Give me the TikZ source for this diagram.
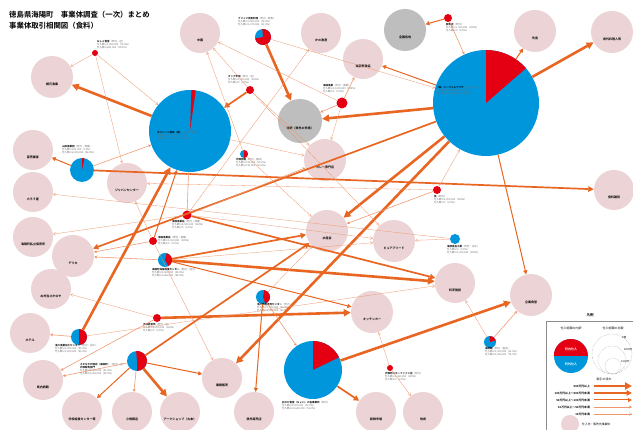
\documentclass[tikz,border=0pt]{standalone}
\usepackage{fontspec}
\newfontfamily\jp{Noto Sans CJK JP}
\newfontfamily\jpb{Noto Sans CJK JP Bold}
\usetikzlibrary{arrows.meta}

\definecolor{pinkfill}{RGB}{236,212,214}
\definecolor{grayfill}{RGB}{190,190,190}
\definecolor{piered}{RGB}{228,0,18}
\definecolor{pieblue}{RGB}{0,150,220}
\definecolor{flow}{RGB}{232,102,34}
\definecolor{flowlt}{RGB}{238,150,108}
\definecolor{captiongray}{RGB}{110,110,110}

\tikzset{
  buyer/.style={circle, fill=pinkfill, inner sep=0pt},
  market/.style={circle, fill=grayfill, inner sep=0pt},
  supplier/.style={circle, fill=pieblue, inner sep=0pt},
  localdot/.style={circle, fill=piered, inner sep=0pt},
  blab/.style={font=\jpb\fontsize{3}{3.5}\selectfont, inner sep=0pt},
  slab/.style={font=\jp\fontsize{2.5}{3.1}\selectfont, align=left, anchor=north west,
    inner sep=0pt, text=captiongray},
  flowA/.style={draw=flow, line width=2.6pt, -{Triangle[length=7pt,width=7pt]}},
  flowB/.style={draw=flow, line width=1.7pt, -{Triangle[length=5.5pt,width=5.5pt]}},
  flowC/.style={draw=flow, line width=1.0pt, -{Triangle[length=4pt,width=4pt]}},
  flowD/.style={draw=flowlt, line width=0.55pt, -{Stealth[length=3pt,width=3pt]}},
  flowE/.style={draw=flowlt, line width=0.3pt, -{Straight Barb[length=2.5pt,width=3pt]}},
}

% buyer circle with its caption
\newcommand\buyernode[6][buyer]{%
  \node[#1, minimum size=#5pt] (#2) at (#3,#4) {};
  \node[blab] (#2t) at ([yshift=-7pt]#2.center) {#6};}
% purchase pie: name, x, y, diameter, radius, red from, red to
\newcommand\piechart[7]{%
  \node[supplier, minimum size=#4pt] (#1) at (#2,#3) {};
  \fill[piered] (#1.center) -- ++(#6:#5pt) arc[start angle=#6, end angle=#7, radius=#5pt] -- cycle;}

\begin{document}
\begin{tikzpicture}[x=1pt,y=-1pt]
\useasboundingbox (0,0) rectangle (633,430);
\clip (0,0) rectangle (633,430);
\fill[white] (0,0) rectangle (633,430);

% title
\node[anchor=west, font=\jpb\fontsize{7.4}{8}\selectfont, inner sep=0pt] (title1) at (9,15) {徳島県海陽町　事業体調査（一次）まとめ};
\node[anchor=west, font=\jpb\fontsize{7.4}{8}\selectfont, inner sep=0pt] (title2) at (9,26) {事業体取引相関図（食料）};

% buyers and markets
\buyernode{p1}{52}{77}{42}{網元漁業}
\buyernode{p2}{200}{33}{40}{中国}
\buyernode{p3}{321}{33}{40}{かの漁港}
\buyernode[market]{g4}{405}{30}{42}{全国各地}
\buyernode{p5}{363}{59}{40}{海部郡漁協}
\buyernode[market]{g6}{300}{121}{44}{沖野（県外の市場）}
\buyernode{p7}{535}{31}{42}{先島}
\buyernode{p8}{612}{32}{42}{県外料理人等}
\buyernode{p9}{33}{150}{40}{直売業者}
\buyernode{p10}{33}{192}{40}{たろう屋}
\buyernode{p11}{33}{237}{40}{海陽町私立保育所}
\buyernode{p12}{73}{256}{42}{デリカ}
\buyernode{p13}{51}{289}{40}{お弁当さかなや}
\buyernode{p14}{30}{333}{40}{ホテル}
\buyernode{p15}{43}{380}{40}{県内旅館}
\buyernode{p16}{82}{412}{40}{学校給食センター等}
\buyernode{p17}{132}{412}{40}{小規模店}
\buyernode{p18}{180}{412}{40}{アークショップ（丸本）}
\buyernode{p19}{222}{378}{40}{業務販売}
\buyernode{p20}{254}{412}{40}{県外販売店}
\buyernode{p21}{376}{412}{40}{新鮮市場}
\buyernode{p22}{423}{412}{40}{他県}
\buyernode{p23}{372}{312}{42}{キッチンカー}
\buyernode{p24}{455}{283}{40}{料亭施設}
\buyernode{p25}{531}{295}{42}{企業食堂}
\buyernode{p26}{614}{190}{40}{食料雑貨}
\buyernode{p28}{327}{231}{42}{水産会}
\buyernode{p29}{394}{241}{42}{ピュアブリード}
\buyernode{p30}{325}{160}{42}{カレー専門店}
\buyernode{p31}{127}{183}{40}{ジャパンセンター}

% suppliers: purchase split (red = inside the town, blue = outside)
\piechart{A}{190}{131}{82}{41}{82}{88}
\piechart{B}{486}{103}{106}{53}{41}{90}
\piechart{C}{313}{370}{58}{29}{26}{90}
\piechart{D}{82}{170}{24}{12}{78}{90}
\piechart{E}{263}{37}{16}{8}{190}{455}
\piechart{I}{244}{154}{8}{4}{-90}{90}
\piechart{L}{165}{260}{14}{7}{-60}{75}
\piechart{N}{263}{297}{14}{7}{-70}{80}
\piechart{O}{79}{337}{16}{8}{-90}{90}
\piechart{P}{137}{361}{20}{10}{-90}{95}
\piechart{S}{490}{342}{12}{6}{15}{95}
\node[localdot, minimum size=8pt] (F) at (250,90) {};
\node[localdot, minimum size=8pt] (G) at (448,18) {};
\node[localdot, minimum size=11pt] (H) at (342,103) {};
\node[localdot, minimum size=9pt] (J) at (187,215) {};
\node[localdot, minimum size=8pt] (K) at (153,241) {};
\node[localdot, minimum size=8pt] (M) at (157,318) {};
\node[localdot, minimum size=8pt] (Q) at (437,190) {};
\node[localdot, minimum size=6pt] (T) at (390,368) {};
\node[localdot, minimum size=6pt] (U) at (95,53) {};
\node[supplier, minimum size=10pt] (R) at (455,239) {};

% supplier captions
\node[slab] (Ut) at (97,40) {\textcolor{black}{\jpb おしゃ食堂}（町内・店）\\仕入額 ¥ 1,650,000（70.5\%）\\仕入額 ¥ 690,000（29.5\%）};
\node[slab] (Et) at (238,17) {\textcolor{black}{\jpb ブリッジ地魚料理}（町内・飲食）\\仕入額 ¥ 3,800,000（78.0\%）\\仕入額 ¥ 1,070,000（22.0\%）};
\node[slab] (Ft) at (228,75) {\textcolor{black}{\jpb オック甲田}（町内・店）\\仕入額 ¥ 2,400,000（100\%）\\仕入額 ¥ 0（0.0\%）};
\node[slab] (Gt) at (446,23) {\textcolor{black}{\jpb 鮮魚店}（町内）\\仕入額 ¥ 1,200,000（100\%）\\仕入額 ¥ 0（0.0\%）};
\node[slab] (Ht) at (323,84) {\textcolor{black}{\jpb 海陽漁業}（町内・漁業）\\仕入額 ¥ 12,000,000（100\%）\\仕入額 ¥ 0（0.0\%）};
\node[slab] (At) at (157,131) {\textcolor{black}{\jpb ダイハーニ温泉（株）}（町内・観光）\\仕入額 ¥ 1,500,000（2.0\%）\\仕入額 ¥ 73,500,000（98.0\%）};
\node[slab] (Bt) at (436,86) {\textcolor{black}{\jpb （株）シーウェルプラザ}（町内・加工）\\仕入額 ¥ 25,000,000（13.6\%）\\仕入額 ¥ 159,000,000（86.4\%）};
\node[slab] (Dt) at (62,145) {\textcolor{black}{\jpb 山田漁業団}（町内・漁業）\\仕入額 ¥ 200,000（3.1\%）\\仕入額 ¥ 6,300,000（96.9\%）};
\node[slab] (It) at (236,158) {\textcolor{black}{\jpb 宍喰旅館}（町内・宿泊）\\仕入額 ¥ 720,000（50.0\%）\\仕入額 ¥ 720,000（50.0\%）};
\node[slab] (Jt) at (172,220) {\textcolor{black}{\jpb 海陽漁業協}（町内・漁業）\\仕入額 ¥ 8,500,000（100\%）\\仕入額 ¥ 0（0.0\%）};
\node[slab] (Kt) at (158,236) {\textcolor{black}{\jpb 海陽漁業協}（男性・漁業）\\仕入額 ¥ 3,100,000（100\%）\\仕入額 ¥ 0（0.0\%）};
\node[slab] (Lt) at (152,268) {\textcolor{black}{\jpb 海陽町海陽漁業センター}（町内・加工）\\仕入額 ¥ 4,800,000（45.0\%）\\仕入額 ¥ 5,860,000（55.0\%）};
\node[slab] (Mt) at (143,323) {\textcolor{black}{\jpb 平成経営所}（町内・店）\\仕入額 ¥ 6,200,000（100\%）\\仕入額 ¥ 0（0.0\%）};
\node[slab] (Nt) at (257,303) {\textcolor{black}{\jpb 浅川物産直売センター}（町内・店）\\仕入額 ¥ 2,900,000（40.0\%）\\仕入額 ¥ 4,350,000（60.0\%）};
\node[slab] (Ot) at (55,344) {\textcolor{black}{\jpb 浅川漁業加工センター}（町内・加工）\\仕入額 ¥ 3,000,000（50.0\%）\\仕入額 ¥ 3,000,000（50.0\%）};
\node[slab] (Pt) at (80,363) {\textcolor{black}{\jpb さかなや宍喰店（海陽町）}（町内・店）\\\textcolor{black}{\jpb 宍喰鮮魚部門}\\仕入額 ¥ 9,800,000（51.0\%）\\仕入額 ¥ 9,400,000（49.0\%）};
\node[slab] (Qt) at (434,195) {\textcolor{black}{\jpb 魚}（町内）\\仕入額 ¥ 4,000,000（100\%）\\仕入額 ¥ 0（0.0\%）};
\node[slab] (Rt) at (447,245) {\textcolor{black}{\jpb 海部食品工業}（町外・加工）\\仕入額 ¥ 0（0.0\%）\\仕入額 ¥ 3,200,000（100\%）};
\node[slab] (St) at (485,347) {\textcolor{black}{\jpb 海南館}（町内・宿泊）\\仕入額 ¥ 1,200,000（22.0\%）\\仕入額 ¥ 4,250,000（78.0\%）};
\node[slab] (Tt) at (385,372) {\textcolor{black}{\jpb 宍喰町のキーファイン店}（町内）\\仕入額 ¥ 1,480,000（100\%）\\仕入額 ¥ 0（0.0\%）};
\node[slab] (Ct) at (282,401) {\textcolor{black}{\jpb 石わか食堂（ちょい）の各事業所}（町内）\\仕入額 ¥ 9,200,000（22.0\%）\\仕入額 ¥ 32,600,000（78.0\%）};

% flows of goods
\draw[flowA] (A) -- (p1);
\draw[flowA] (E) -- (g6);
\draw[flowA] (B) -- (g6);
\draw[flowA] (B) -- (p8);
\draw[flowA] (B) -- (p28);
\draw[flowA] (B) -- (p19);
\draw[flowA] (C) -- (p25);
\draw[flowA] (O) -- (A);
\draw[flowA] (P) -- (p18);
\draw[flowA] (M) -- (p23);
\draw[flowA] (L) -- (p24);
\draw[flowB] (F) -- (A);
\draw[flowB] (C) -- (p21);
\draw[flowB] (J) -- (p24);
\draw[flowB] (L) -- (p28);
\draw[flowB] (D) -- (p26);
\draw[flowB] (P) -- (p28);
\draw[flowB] (B) -- (p12);
\draw[flowC] (G) -- (g4);
\draw[flowC] (B) -- (p5);
\draw[flowC] (B) -- (p7);
\draw[flowC] (B) -- (p25);
\draw[flowC] (P) -- (p16);
\draw[flowC] (P) -- (p19);
\draw[flowC] (N) -- (p20);
\draw[flowC] (D) -- (p9);
\draw[flowC] (L) -- (p23);
\draw[flowC] (K) -- (A);
\draw[flowD] (G) -- (B);
\draw[flowD] (H) -- (p5);
\draw[flowD] (H) -- (g6);
\draw[flowD] (Q) -- (p28);
\draw[flowD] (P) -- (p17);
\draw[flowD] (N) -- (C);
\draw[flowD] (J) -- (A);
\draw[flowD] (O) -- (p14);
\draw[flowD] (M) -- (p15);
\draw[flowD] (K) -- (p12);
\draw[flowD] (L) -- (p12);
\draw[flowD] (S) -- (p25);
\draw[flowD] (D) -- (A);
\draw[flowD] (P) -- (p15);
\draw[flowD] (J) -- (p30);
\draw[flowE] (F) -- (p2);
\draw[flowE] (F) -- (p30);
\draw[flowE] (H) -- (p2);
\draw[flowE] (H) -- (p30);
\draw[flowE] (J) -- (p3);
\draw[flowE] (Q) -- (B);
\draw[flowE] (U) -- (A);
\draw[flowE] (U) -- (p31);
\draw[flowE] (U) -- (p1);
\draw[flowE] (R) -- (p29);
\draw[flowE] (R) -- (p10);
\draw[flowE] (T) -- (p23);
\draw[flowE] (T) -- (p22);
\draw[flowE] (S) -- (p24);
\draw[flowE] (J) -- (p11);
\draw[flowE] (J) -- (p29);
\draw[flowE] (K) -- (p19);
\draw[flowE] (I) -- (p28);
\draw[flowE] (I) -- (p2);
\draw[flowE] (N) -- (p28);
\draw[flowE] (M) -- (p13);
\draw[flowE] (L) -- (p29);
\draw[flowE] (K) -- (p31);
\draw[flowE] (A) -- (p30);
\draw[flowE] (E) -- (B);
\draw[flowE] (F) -- (p29);
\draw[flowE] (Q) -- (p31);
\draw[flowE] (O) -- (p24);

% legend
\node[font=\jpb\fontsize{3.5}{4}\selectfont, inner sep=0pt] (legtitle) at (590,315) {凡例};
\draw[black!45, line width=0.4pt] (546,321) rectangle (640,440);
\node[font=\jp\fontsize{3}{3.5}\selectfont, inner sep=0pt] (legpie) at (571,328) {仕入総額の内訳};
\node[font=\jp\fontsize{3}{3.5}\selectfont, inner sep=0pt] (legsize) at (613,328) {仕入総額の比較};
\node[supplier, minimum size=34pt] (legdisc) at (571,356) {};
\fill[piered] (legdisc.west) arc[start angle=180, end angle=0, radius=17pt] -- cycle;
\node[font=\jpb\fontsize{3}{3.5}\selectfont, text=white, inner sep=0pt] (legin) at (571,349) {町内仕入};
\node[font=\jpb\fontsize{3}{3.5}\selectfont, text=white, inner sep=0pt] (legout) at (571,364) {町外仕入};
\draw[black!50, densely dotted, line width=0.35pt] (612,354) circle[radius=20pt];
\draw[black!50, densely dotted, line width=0.35pt] (612,360) circle[radius=14pt];
\draw[black!50, densely dotted, line width=0.35pt] (613,366) circle[radius=8pt];
\coordinate (legring) at (612,354);
\node[font=\jp\fontsize{2.6}{3}\selectfont, inner sep=0pt, anchor=west] (leg1) at (622,338) {1億};
\node[font=\jp\fontsize{2.6}{3}\selectfont, inner sep=0pt, anchor=west] (leg2) at (624,350) {5000万};
\node[font=\jp\fontsize{2.6}{3}\selectfont, inner sep=0pt, anchor=west] (leg3) at (621,362) {1000万};
\node[font=\jp\fontsize{3}{3.5}\selectfont, inner sep=0pt] (legflow) at (604,379) {取引の流れ};
\foreach \yy/\txt/\sty in {386/500万円以上/flowA, 393/100万円以上〜500万円未満/flowB,
    400/50万円以上〜100万円未満/flowC, 407/10万円以上〜50万円未満/flowD, 414/10万円未満/flowE}{
  \node[font=\jpb\fontsize{2.8}{3.2}\selectfont, inner sep=0pt, anchor=east] (legt\yy) at (590,\yy) {\txt};
  \coordinate (lega\yy) at (594,\yy);
  \coordinate (legb\yy) at (632,\yy);
  \draw[\sty] (lega\yy) -- (legb\yy);
}
\node[buyer, minimum size=18pt] (legbuyer) at (570,424) {};
\node[font=\jp\fontsize{2.8}{3.2}\selectfont, inner sep=0pt, anchor=west] (legbuyert) at (582,424) {仕入先・販売先事業体};
\end{tikzpicture}
\end{document}
